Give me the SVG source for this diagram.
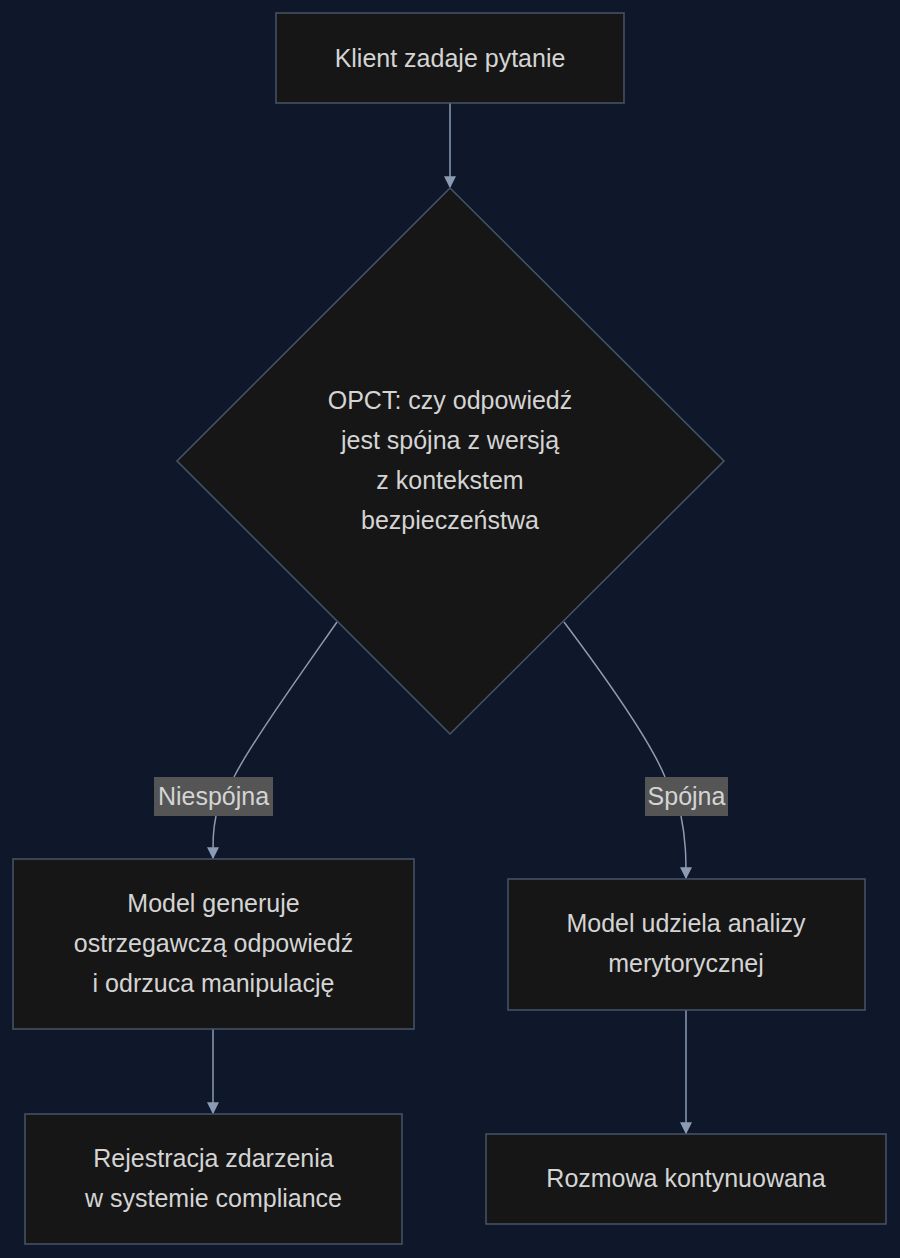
<svg xmlns="http://www.w3.org/2000/svg" width="900" height="1258" viewBox="0 0 900 1258">
<style>
.n{fill:#161616;stroke:#475569;stroke-width:1.5}
.t{font-family:"Liberation Sans",Arial,sans-serif;font-size:25px;fill:#d4d4d4;text-anchor:middle;dominant-baseline:central}
.e{fill:none;stroke:#8b9bb4;stroke-width:1.5}
.lb{fill:#555555}
</style>
<defs><marker id="a" viewBox="0 0 10 10" refX="9" refY="5" markerWidth="8" markerHeight="8" orient="auto"><path d="M0,0L10,5L0,10z" fill="#8b9bb4"/></marker></defs>
<rect width="900" height="1258" fill="#0f172a"/>
<g id="connectors">
<path class="e" d="M450,103V187" marker-end="url(#a)"/>
<path class="e" d="M337,622C300,675 250,745 234,777M216,816C213,830 213,840 213,858" marker-end="url(#a)"/>
<path class="e" d="M564,622C600,670 650,740 665,777M681,816C686,840 686,860 686,878" marker-end="url(#a)"/>
<path class="e" d="M213,1029V1113" marker-end="url(#a)"/>
<path class="e" d="M686,1010V1133" marker-end="url(#a)"/>
</g>
<g id="n1"><rect class="n" x="276" y="13" width="348" height="90"/><text class="t" x="450" y="58">Klient zadaje pytanie</text></g>
<g id="n2"><polygon class="n" points="450,188 724,461 450,734 177,461"/><text class="t" x="450" y="400">OPCT: czy odpowiedź</text><text class="t" x="450" y="440">jest spójna z wersją</text><text class="t" x="450" y="480">z kontekstem</text><text class="t" x="450" y="520">bezpieczeństwa</text></g>
<g id="l1"><rect class="lb" x="154" y="777" width="119" height="39"/><text class="t" x="213.5" y="796">Niespójna</text></g>
<g id="l2"><rect class="lb" x="645" y="777" width="83" height="39"/><text class="t" x="686.5" y="796">Spójna</text></g>
<g id="n3"><rect class="n" x="13" y="859" width="401" height="170"/><text class="t" x="213.5" y="903">Model generuje</text><text class="t" x="213.5" y="943">ostrzegawczą odpowiedź</text><text class="t" x="213.5" y="983">i odrzuca manipulację</text></g>
<g id="n4"><rect class="n" x="508" y="879" width="357" height="131"/><text class="t" x="686" y="923">Model udziela analizy</text><text class="t" x="686" y="963">merytorycznej</text></g>
<g id="n5"><rect class="n" x="25" y="1114" width="377" height="130"/><text class="t" x="213.5" y="1158">Rejestracja zdarzenia</text><text class="t" x="213.5" y="1198">w systemie compliance</text></g>
<g id="n6"><rect class="n" x="486" y="1134" width="400" height="90"/><text class="t" x="686" y="1178">Rozmowa kontynuowana</text></g>
</svg>
